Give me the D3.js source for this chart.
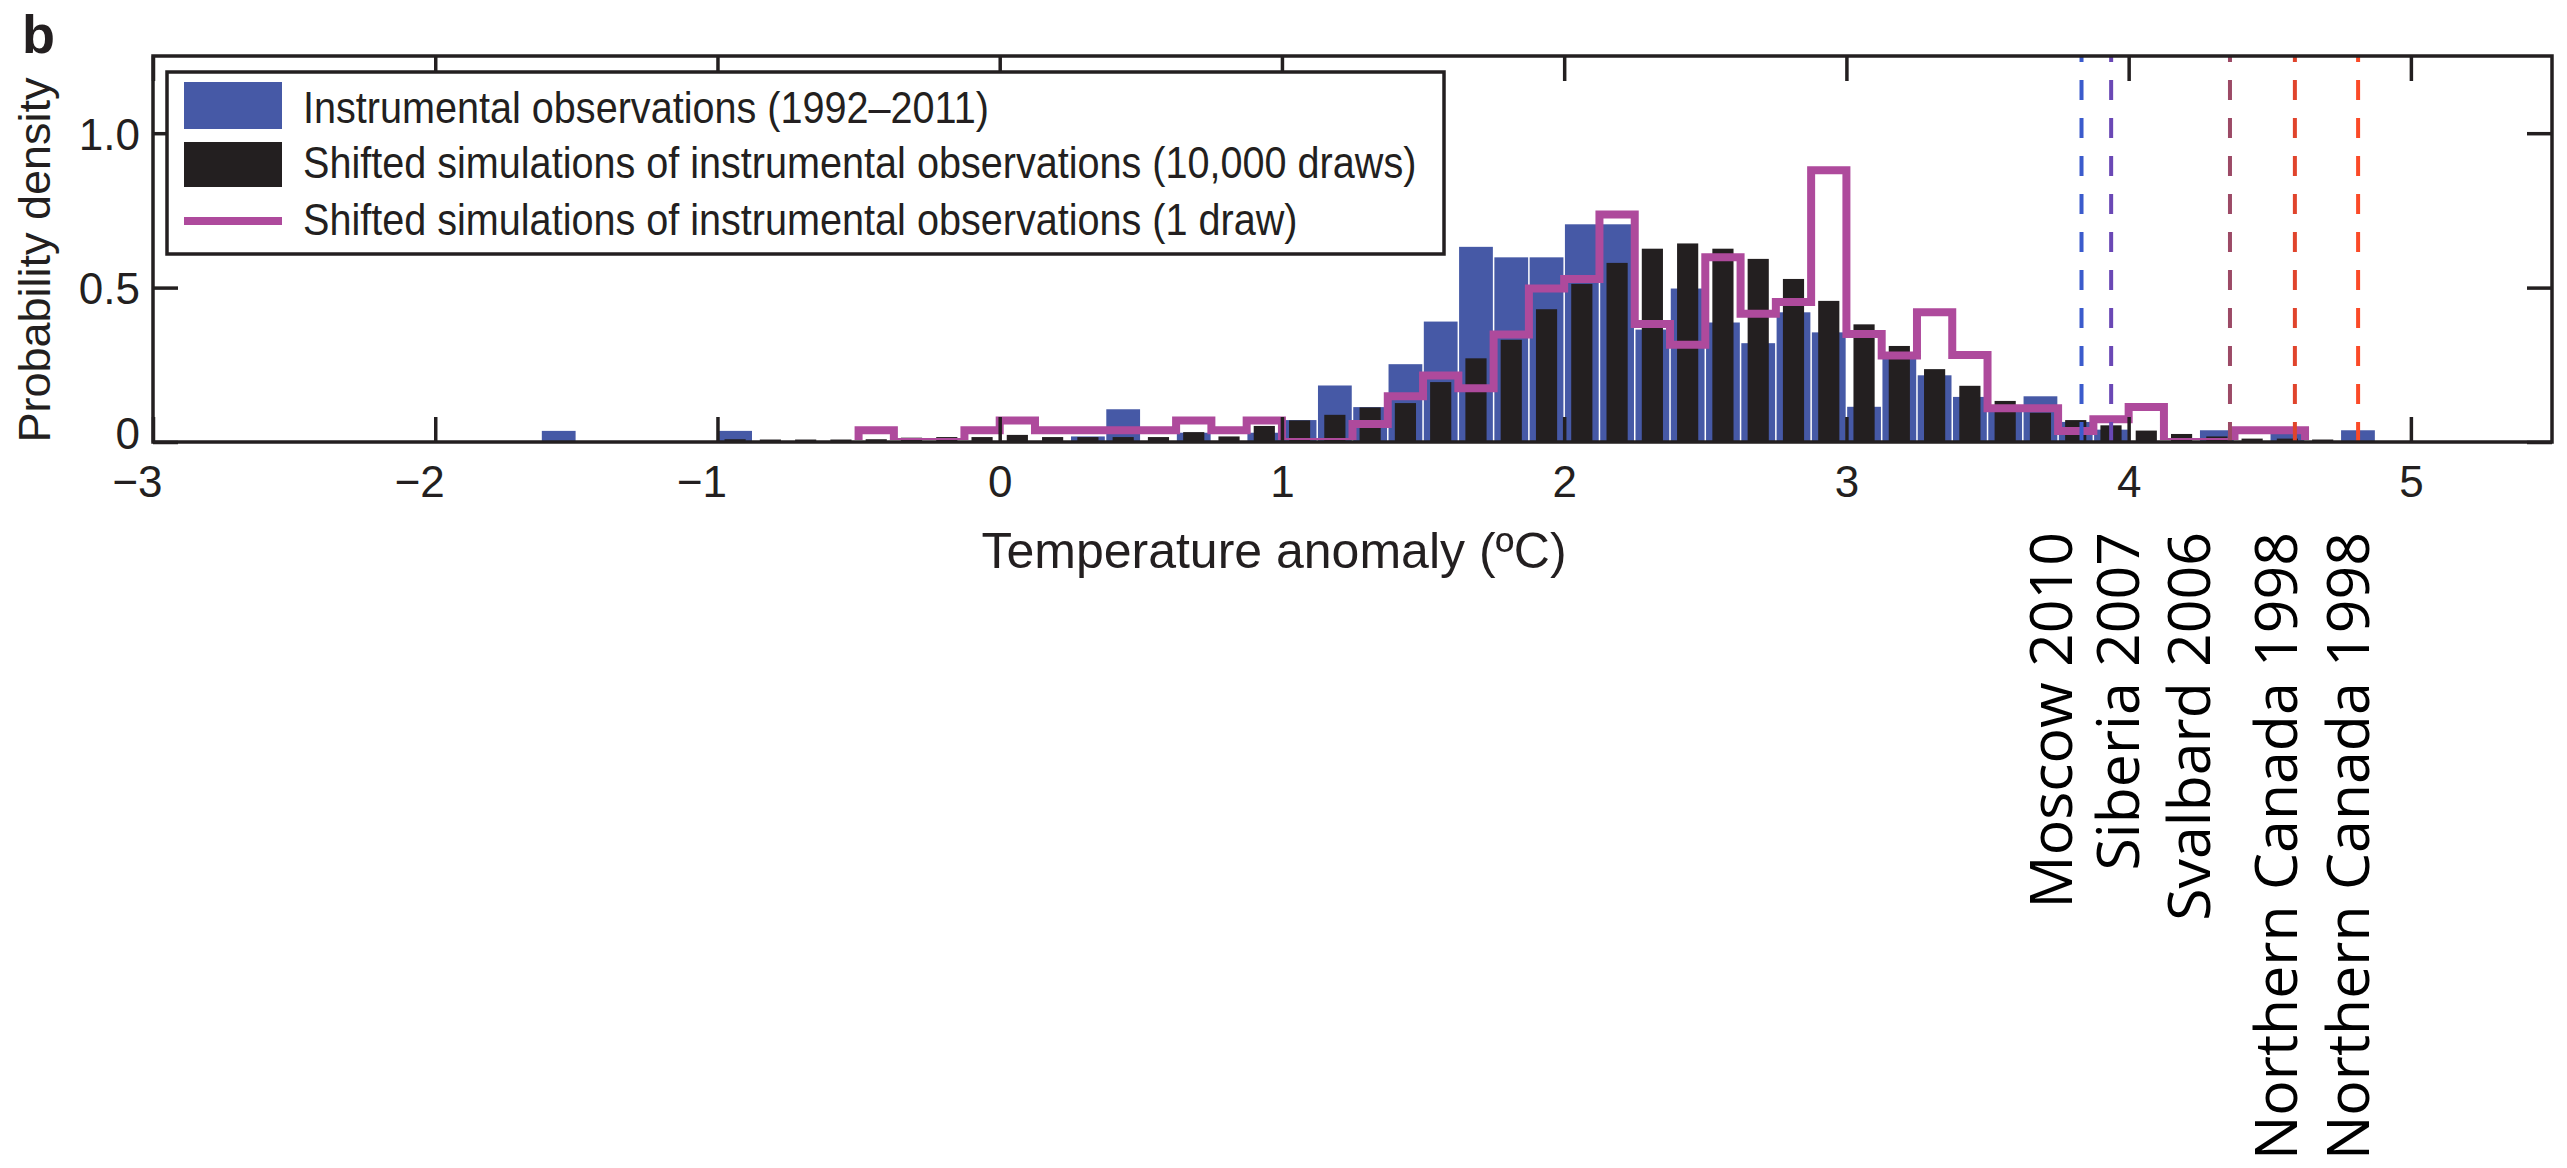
<!DOCTYPE html>
<html>
<head>
<meta charset="utf-8">
<script src="https://cdn.jsdelivr.net/npm/d3@7"></script>
<style>
  body { margin: 0; background: #fff; }
  svg { display: block; }
</style>
</head>
<body>
<svg id="chart" width="2567" height="1168"></svg>
<script>
// bin width of all three histograms (degC)
const bin_width = 0.125;

// Instrumental observations (1992-2011): bin left edge, probability density
const obs_bins = [-1.625, -1.0, 0.25, 0.375, 0.625, 0.875, 1.0, 1.125, 1.25, 1.375, 1.5, 1.625, 1.75, 1.875,
  2.0, 2.125, 2.25, 2.375, 2.5, 2.625, 2.75, 2.875, 3.0, 3.125, 3.25, 3.375, 3.5, 3.625, 3.75, 3.875,
  4.25, 4.5, 4.75];
const obs_density = [0.036, 0.036, 0.018, 0.106, 0.03, 0.03, 0.071, 0.183, 0.113, 0.252, 0.39, 0.632, 0.598, 0.598,
  0.705, 0.705, 0.364, 0.497, 0.387, 0.32, 0.42, 0.355, 0.114, 0.27, 0.216, 0.146, 0.10, 0.148, 0.065, 0.04,
  0.038, 0.036, 0.038];

// Shifted simulations (10,000 draws)
const sim_bins = [-1.0, -0.875, -0.75, -0.625, -0.5, -0.375, -0.25, -0.125, 0.0, 0.125, 0.25, 0.375, 0.5, 0.625,
  0.75, 0.875, 1.0, 1.125, 1.25, 1.375, 1.5, 1.625, 1.75, 1.875, 2.0, 2.125, 2.25, 2.375, 2.5, 2.625, 2.75,
  2.875, 3.0, 3.125, 3.25, 3.375, 3.5, 3.625, 3.75, 3.875, 4.0, 4.125, 4.25, 4.375, 4.5, 4.625, 4.75];
const sim_density = [0.009, 0.008, 0.008, 0.008, 0.009, 0.014, 0.016, 0.016, 0.023, 0.016, 0.016, 0.016, 0.016, 0.032,
  0.018, 0.052, 0.07, 0.088, 0.112, 0.126, 0.194, 0.271, 0.331, 0.43, 0.512, 0.58, 0.626, 0.643, 0.626, 0.593, 0.528,
  0.457, 0.381, 0.311, 0.236, 0.182, 0.133, 0.095, 0.071, 0.054, 0.037, 0.026, 0.018, 0.011, 0.011, 0.008, 0.003];

// Shifted simulations (1 draw)
const draw_bins = [-0.5, -0.375, -0.25, -0.125, 0.0, 0.125, 0.25, 0.375, 0.5, 0.625, 0.75, 0.875, 1.0, 1.125,
  1.25, 1.375, 1.5, 1.625, 1.75, 1.875, 2.0, 2.125, 2.25, 2.375, 2.5, 2.625, 2.75, 2.875, 3.0, 3.125, 3.25,
  3.375, 3.5, 3.625, 3.75, 3.875, 4.0, 4.125, 4.25, 4.375, 4.5];
const draw_density = [0.038, 0, 0, 0.038, 0.07, 0.038, 0.038, 0.038, 0.038, 0.07, 0.038, 0.07, 0, 0,
  0.058, 0.148, 0.215, 0.174, 0.348, 0.497, 0.528, 0.737, 0.382, 0.315, 0.598, 0.415, 0.453, 0.88, 0.35, 0.28, 0.42,
  0.282, 0.109, 0.109, 0.036, 0.074, 0.113, 0, 0, 0.038, 0.038];

const x_ticks = [-3, -2, -1, 0, 1, 2, 3, 4, 5];
const y_ticks = [0, 0.5, 1.0];

// record events (dashed lines) and their labels
const event_names = ['Moscow 2010', 'Siberia 2007', 'Svalbard 2006', 'Northern Canada 1998', 'Northern Canada 1998'];
const event_values = [3.833, 3.938, 4.359, 4.589, 4.813];
const event_colors = ['#3b5bcc', '#6a48b5', '#9c4a66', '#e0442c', '#fb4a27'];
const event_label_pos = [3.80, 4.035, 4.29, 4.595, 4.85];

const legend_labels = [
  'Instrumental observations (1992\u20132011)',
  'Shifted simulations of instrumental observations (10,000 draws)',
  'Shifted simulations of instrumental observations (1 draw)'
];

const col_obs = '#4659a6';
const col_sim = '#231f20';
const col_draw = '#ae4a9c';
const ink = '#231f20';

const margin = {left: 153, right: 2552, top: 56, bottom: 442};
const svg = d3.select('#chart');

const x_scale = d3.scaleLinear().domain([-3, 5.5]).range([margin.left, margin.right]);
const y_scale = d3.scaleLinear().domain([0, 1.25]).range([margin.bottom, margin.top]);

svg.append('rect').attr('width', 2567).attr('height', 1168).attr('fill', '#fff');

svg.append('clipPath').attr('id', 'plot-clip')
  .append('rect')
  .attr('x', margin.left).attr('y', margin.top)
  .attr('width', margin.right - margin.left)
  .attr('height', margin.bottom - margin.top - 2);

// instrumental observations
const obs_data = obs_bins.map((b, i) => ({left: b, value: obs_density[i]}));
svg.append('g')
  .selectAll('rect')
  .data(obs_data)
  .enter().append('rect')
  .attr('x', d => x_scale(d.left) + 0.75)
  .attr('width', d => x_scale(d.left + bin_width) - x_scale(d.left) - 1.5)
  .attr('y', d => y_scale(d.value))
  .attr('height', d => y_scale(0) - y_scale(d.value))
  .attr('fill', col_obs);

// 10,000 draws, narrower bars
const sim_data = sim_bins.map((b, i) => ({left: b, value: sim_density[i]}));
const bar_w = x_scale(bin_width * 0.6) - x_scale(0);
svg.append('g')
  .selectAll('rect')
  .data(sim_data)
  .enter().append('rect')
  .attr('x', d => x_scale(d.left + bin_width / 2) - bar_w / 2)
  .attr('width', bar_w)
  .attr('y', d => y_scale(d.value))
  .attr('height', d => y_scale(0) - y_scale(d.value))
  .attr('fill', col_sim);

// 1 draw as stairs
const stair_pts = [[draw_bins[0], 0]];
draw_bins.forEach((b, i) => {
  stair_pts.push([b, draw_density[i]]);
  stair_pts.push([b + bin_width, draw_density[i]]);
});
stair_pts.push([draw_bins[draw_bins.length - 1] + bin_width, 0]);

const stair_line = d3.line()
  .x(d => x_scale(d[0]))
  .y(d => y_scale(d[1]));

svg.append('path')
  .datum(stair_pts)
  .attr('clip-path', 'url(#plot-clip)')
  .attr('fill', 'none')
  .attr('stroke', col_draw)
  .attr('stroke-width', 8)
  .attr('stroke-linejoin', 'miter')
  .attr('d', stair_line);

// dashed event lines
svg.append('g')
  .selectAll('line')
  .data(event_values)
  .enter().append('line')
  .attr('x1', d => x_scale(d)).attr('x2', d => x_scale(d))
  .attr('y1', y_scale(1.25)).attr('y2', y_scale(0))
  .attr('stroke', (d, i) => event_colors[i])
  .attr('stroke-width', 4)
  .attr('stroke-dasharray', '20 18')
  .attr('stroke-dashoffset', 14);

// frame
svg.append('rect')
  .attr('x', margin.left).attr('y', margin.top)
  .attr('width', margin.right - margin.left)
  .attr('height', margin.bottom - margin.top)
  .attr('fill', 'none')
  .attr('stroke', ink)
  .attr('stroke-width', 3.5);

// axes, ticks pointing inwards
const x_axis = d3.axisBottom(x_scale).tickValues(x_ticks).tickSizeInner(-25).tickSizeOuter(0).tickPadding(24)
  .tickFormat(d3.format('d'));
const y_axis = d3.axisLeft(y_scale).tickValues(y_ticks).tickSizeInner(-25).tickSizeOuter(0).tickPadding(13)
  .tickFormat(d => d === 0 ? '0' : d.toFixed(1));

function style_axis(g) {
  g.select('.domain').remove();
  g.selectAll('.tick line').attr('stroke', ink).attr('stroke-width', 3.5);
  g.selectAll('.tick text')
    .attr('fill', ink)
    .style('font-family', '"Liberation Sans", Arial, sans-serif')
    .style('font-size', '44px');
}

const gx = svg.append('g').attr('transform', 'translate(0,' + margin.bottom + ')').call(x_axis).call(style_axis);
// the minus sign hangs to the left of the tick, as in the original
gx.selectAll('.tick text').attr('dx', d => d < 0 ? -16 : 0);

const gy = svg.append('g').attr('transform', 'translate(' + margin.left + ',0)').call(y_axis).call(style_axis);
gy.selectAll('.tick text').attr('dy', d => d === 0 ? '0.14em' : '0.36em');

svg.append('g').attr('transform', 'translate(0,' + margin.top + ')')
  .call(d3.axisTop(x_scale).tickValues(x_ticks).tickSizeInner(-25).tickSizeOuter(0).tickFormat(''))
  .call(style_axis);
svg.append('g').attr('transform', 'translate(' + margin.right + ',0)')
  .call(d3.axisRight(y_scale).tickValues(y_ticks).tickSizeInner(-25).tickSizeOuter(0).tickFormat(''))
  .call(style_axis);

// axis titles
svg.append('text')
  .attr('transform', 'translate(50,260) rotate(-90)')
  .attr('text-anchor', 'middle')
  .attr('fill', ink)
  .style('font-family', '"Liberation Sans", Arial, sans-serif')
  .style('font-size', '45px')
  .text('Probability density');

svg.append('text')
  .attr('x', 1274).attr('y', 568)
  .attr('text-anchor', 'middle')
  .attr('fill', ink)
  .style('font-family', '"Liberation Sans", Arial, sans-serif')
  .style('font-size', '50px')
  .text('Temperature anomaly (\u00baC)');

svg.append('text')
  .attr('x', 22).attr('y', 53)
  .attr('fill', ink)
  .style('font-family', '"Liberation Sans", Arial, sans-serif')
  .style('font-weight', 'bold')
  .style('font-size', '54px')
  .text('b');

// legend
const legend = svg.append('g');
legend.append('rect')
  .attr('x', 167).attr('y', 72).attr('width', 1277).attr('height', 182)
  .attr('fill', '#fff').attr('stroke', ink).attr('stroke-width', 3.5);
legend.append('rect').attr('x', 184).attr('y', 82).attr('width', 98).attr('height', 47).attr('fill', col_obs);
legend.append('rect').attr('x', 184).attr('y', 142).attr('width', 98).attr('height', 45).attr('fill', col_sim);
legend.append('line').attr('x1', 184).attr('x2', 282).attr('y1', 221).attr('y2', 221)
  .attr('stroke', col_draw).attr('stroke-width', 8);
const legend_y = [123, 178, 235];
legend.selectAll('text.leg')
  .data(legend_labels)
  .enter().append('text')
  .attr('class', 'leg')
  .attr('transform', (d, i) => 'translate(303,' + legend_y[i] + ') scale(0.9,1)')
  .attr('fill', ink)
  .style('font-family', '"Liberation Sans", Arial, sans-serif')
  .style('font-size', '44px')
  .text(d => d);

// event labels, rotated
svg.append('g')
  .selectAll('text')
  .data(event_names)
  .enter().append('text')
  .attr('transform', (d, i) => 'translate(' + x_scale(event_label_pos[i]) + ',532) rotate(-90)')
  .attr('text-anchor', 'end')
  .attr('fill', '#000')
  .style('font-family', '"Open Sans", sans-serif')
  .style('font-size', '59px')
  .text(d => d);
</script>
</body>
</html>
